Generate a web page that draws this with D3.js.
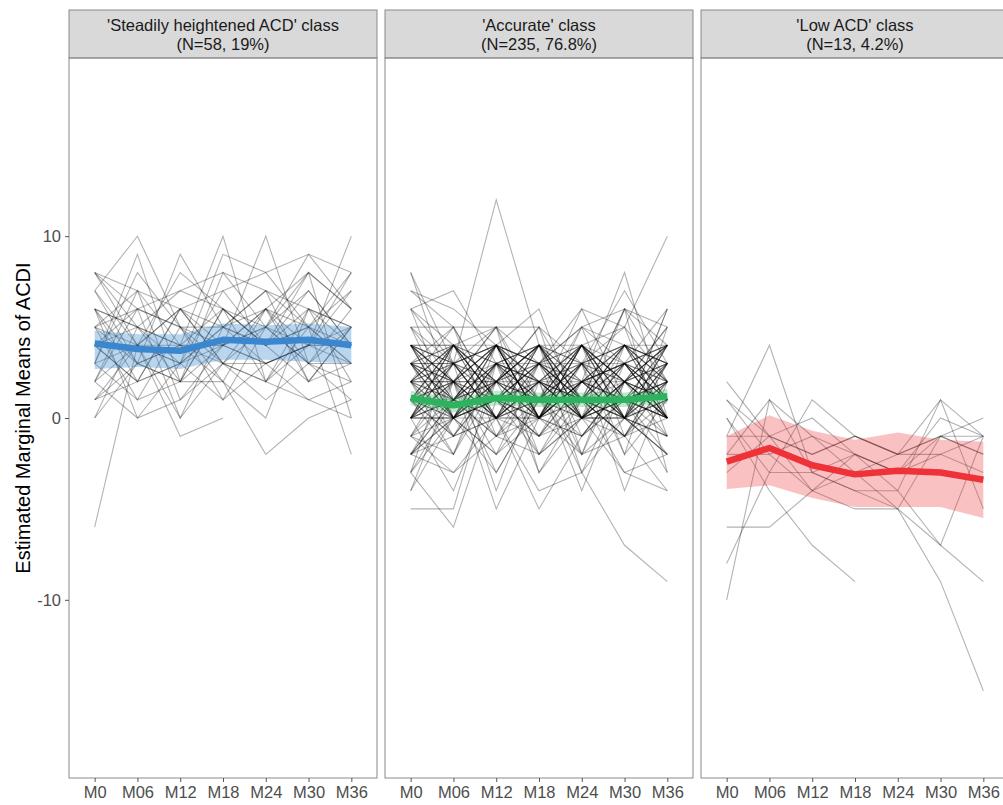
<!DOCTYPE html>
<html>
<head>
<meta charset="utf-8">
<script src="https://cdn.jsdelivr.net/npm/d3@7"></script>
<style>
  body { margin: 0; background: #fff; }
  svg { display: block; font-family: "Liberation Sans", Arial, sans-serif; }
</style>
</head>
<body>
<div id="chart"></div>
<script>
const visits = ['M0', 'M06', 'M12', 'M18', 'M24', 'M30', 'M36'];
const yTicks = [-10, 0, 10];
const yTitle = 'Estimated Marginal Means of ACDI';

const classTitles = [
  ["'Steadily heightened ACD' class", '(N=58, 19%)'],
  ["'Accurate' class", '(N=235, 76.8%)'],
  ["'Low ACD' class", '(N=13, 4.2%)']
];
const classColors = ['#3a87cf', '#2db35d', '#ee3237'];
const ribbonAlpha = [0.35, 0.3, 0.3];

// individual trajectories (null = missing visit)
const steadyLines = [
  [8, 4, 3, 5, 7, 6, 5], [8, 5, 2, 4, 3, 4, 8], [7, 10, 5, 3, 6, 3, 2],
  [6, 3, 9, 5, 4, 8, 6], [5, 7, 4, 10, 2, 5, 3], [4, 2, 6, 4, 10, 3, 5],
  [3, 9, 2, 6, 4, 7, 4], [2, 4, 0, 3, 1, 3, 1], [1, 3, 4, 2, 6, 4, 10],
  [0, 5, 3, 7, 4, 2, 5], [-6, 4, 6, 3, 5, 9, 6], [8, 6, 7, 8, 5, 4, 3],
  [6, 2, 3, 9, 8, 5, 7], [5, 1, 5, 2, 0, 6, 4], [4, 6, 0, 5, 3, 1, 2],
  [7, 4, 8, 6, 4, 5, 8], [3, 4, 4, 4, 3, 4, 4], [2, 7, 1, 4, 6, 2, 3],
  [6, 0, 3, 1, 5, 8, 0], [5, 3, 2, 8, 7, 5, 4], [4, 5, 4, 6, 2, 4, 5],
  [1, 2, 6, 5, 4, 6, 2], [3, 8, 5, 4, 5, 3, 6], [5, 4, -1, 0, null, null, null],
  [0, 3, 2, 2, -2, 0, 1], [6, 5, 4, 3, 3, 4, 4], [4, 2, 3, 5, 6, 8, 6],
  [2, 6, 5, 1, 3, 4, 7], [7, 3, 4, 4, 5, 3, 3], [3, 1, 2, 6, 4, 5, -2],
  [5, 6, 5, 5, 7, 2, 5], [1, 4, 3, 4, 6, 5, 3], [4, 4, 6, 3, 2, 6, 5],
  [6, 5, 7, 6, 5, 7, 4], [8, 7, 6, 7, 8, 9, 8], [2, 0, 1, 3, 2, 1, 0]
];

const accurateLines = [
  [4, 0, 3, 1, 4, 0, 2], [3, 1, 4, 0, 2, 4, 1], [2, 4, 0, 3, 1, 2, 4],
  [1, 3, 2, 4, 0, 3, 0], [0, 2, 4, 2, 3, 1, 3], [4, 1, 0, 2, 4, 2, 1],
  [3, 0, 2, 4, 1, 4, 3], [2, 3, 1, 0, 3, 0, 2], [1, 4, 3, 1, 2, 1, 4],
  [0, 1, 2, 3, 4, 3, 0], [-1, 0, 1, 0, -1, 2, 1], [-2, 1, 0, -1, 1, 0, -1],
  [4, 2, 1, 3, 0, 1, 4], [3, 4, 2, 0, 2, 3, 2], [2, 0, 4, 1, 3, 0, 1],
  [1, 2, 0, 4, 2, 4, 3], [0, 4, 1, 2, 0, 2, 0], [-3, 1, 3, 0, 1, -1, 2],
  [4, 3, 4, 3, 1, 0, 1], [3, 2, 0, 2, 4, 1, 0], [2, 1, 3, 4, 0, 3, 4],
  [1, 0, 1, 1, 3, 4, 2], [0, 3, 0, 0, 2, 2, 3], [-1, 2, 4, 3, 0, 0, -1],
  [4, 4, 2, 1, 1, 3, 0], [3, 3, 1, 3, 3, 2, 1], [2, 2, 2, 2, 2, 1, 2],
  [1, 1, 4, 0, 4, 0, 4], [0, 0, 3, 4, 1, 4, 2], [-2, -1, 0, 1, 0, 1, 0],
  [4, 0, 1, 0, 2, 4, 3], [3, 1, 3, 2, 0, 0, 4], [2, 4, 2, 3, 4, 2, 0],
  [1, 3, 0, 2, 1, 3, 1], [0, 2, 1, 4, 3, 0, 3], [-1, -2, 2, 0, -1, 1, 0],
  [1, -1, 0, 2, 1, -1, 2], [0, 1, -1, 1, 2, 0, -2], [2, 0, 1, -1, 0, 2, 1],
  [-3, 0, -2, 0, -2, -1, 0], [4, 2, 4, 0, 4, 2, 4], [0, 4, 0, 4, 0, 4, 0],
  [3, 0, 3, 0, 3, 0, 3], [1, 4, 1, 3, 1, 3, 1], [2, 3, 0, 1, 4, 1, 2],
  [4, 1, 2, 4, 2, 0, 3], [0, 0, 4, 3, 2, 3, 1], [3, 2, 3, 1, 0, 2, 4],
  [0, 4, 2, 0, 4, 1, 0], [4, 0, 0, 4, 1, 4, 4], [1, 2, 4, 2, 0, 2, 3],
  [3, 4, 3, 4, 3, 4, 0], [2, 1, 2, 0, 2, 3, 4], [0, 3, 4, 1, 4, 0, 1],
  [4, 3, 0, 3, 0, 3, 2], [1, 0, 3, 2, 3, 2, 0], [2, 4, 1, 4, 1, 4, 3],
  [3, 0, 4, 0, 4, 1, 2], [0, 1, 3, 3, 1, 0, 4], [4, 2, 2, 1, 3, 4, 1],
  [-1, 1, -1, 0, 1, -1, 1], [-2, 0, 1, -2, 0, 0, -2], [1, -1, 2, 1, -1, 2, 0],
  [-1, 3, 0, 2, 0, -1, 3], [2, -1, 3, -1, 2, 1, -1], [0, 2, -1, 3, -2, 3, 0],
  [3, 1, 0, 1, 4, 2, 3], [1, 4, 4, 0, 2, 0, 2], [4, 4, 1, 2, 0, 1, 0],
  [2, 2, 0, 0, 3, 3, 1], [0, 0, 2, 4, 4, 2, 4], [3, 3, 4, 2, 1, 1, 3],
  [8, 3, 2, 5, 1, 6, 4], [7, 5, 1, 3, 2, 0, 6], [6, 7, 3, 2, 4, 5, 10],
  [5, 2, 5, 1, 3, 7, 3], [8, 1, 4, 6, 0, 2, 5], [6, 4, 5, 0, 5, 3, 6],
  [5, 3, 12, 4, 0, 6, 2], [-5, -5, 3, 2, 1, 0, -2], [-4, 0, -3, 1, -2, 0, -1],
  [-3, -6, 1, -1, 2, 3, 0], [-2, 2, -5, 0, 3, -2, 1], [-1, -3, 0, -4, -3, -7, -9],
  [2, -2, 3, -3, 0, 1, -3], [3, 5, -1, 2, -4, 2, 5], [4, 3, 5, 5, -2, 4, 1],
  [0, -4, 2, -2, 1, -3, -4], [1, 2, -2, 3, 5, -1, 3], [-2, 1, 4, -2, 2, 8, 0],
  [3, -1, 2, 5, 3, -4, 2], [4, 2, -3, 1, 6, 5, -1], [7, 6, 4, 0, 2, 3, 4],
  [-4, 2, 0, -5, -1, 2, 0], [2, 5, 1, 3, 5, 6, -3], [0, 3, -4, 2, -3, 0, 6],
  [1, -2, 4, 0, 4, -2, 5], [5, 0, 2, 4, -1, 1, -2], [-3, 4, 1, -1, 3, 5, 2],
  [3, 2, 5, -3, 1, -1, -4], [6, 3, 4, 3, 6, 1, 2], [-2, 0, 2, 4, -3, 2, -1],
  [5, 5, 5, 3, 1, 6, 5], [6, 0, -2, 1, 5, 4, 2], [-2, -3, -1, -2, 0, -3, -2]
];

const lowLines = [
  [-10, 1, -3, -4, -5, -1, -2], [-1, 4, -3, -2, -3, 0, -1], [2, -1, -4, -5, -5, -7, -9],
  [1, -2, -4, -3, -5, -9, -15], [0, -4, -7, -9, null, null, null], [-6, -6, -4, -2, -4, 1, -1],
  [-8, -3, 1, -1, -2, 1, -5], [0, -3, -3, -4, -4, -7, -1], [-1, -1, -2, -1, -2, -1, -1],
  [-2, 1, -1, -2, -3, -1, 0], [-3, -1, -2, -1, -2, -2, -3], [1, -1, 0, -2, -3, -2, -1],
  [-2, -2, -1, -3, -2, -1, -2]
];

// estimated marginal means and CI
const steadyMean = [4.1, 3.8, 3.7, 4.3, 4.2, 4.3, 4.0];
const steadyLower = [2.7, 2.8, 2.7, 3.2, 3.2, 3.1, 3.0];
const steadyUpper = [4.8, 4.6, 4.6, 5.2, 5.1, 5.2, 5.0];
const accurateMean = [1.1, 0.7, 1.1, 1.0, 1.0, 1.0, 1.2];
const accurateLower = [0.7, 0.3, 0.7, 0.6, 0.6, 0.6, 0.8];
const accurateUpper = [1.5, 1.1, 1.5, 1.4, 1.4, 1.4, 1.6];
const lowMean = [-2.4, -1.65, -2.6, -3.1, -2.9, -3.0, -3.4];
const lowLower = [-3.9, -3.7, -4.4, -4.9, -4.9, -4.9, -5.5];
const lowUpper = [-1.0, 0.15, -0.7, -1.2, -0.8, -1.2, -1.3];

const panels = [
  { lines: steadyLines, mean: steadyMean, lower: steadyLower, upper: steadyUpper },
  { lines: accurateLines, mean: accurateMean, lower: accurateLower, upper: accurateUpper },
  { lines: lowLines, mean: lowMean, lower: lowLower, upper: lowUpper }
];

const width = 1003, height = 805;
const marginLeft = 69, marginTop = 10, stripH = 48, panelW = 308, gap = 8;
const plotTop = marginTop + stripH, plotH = 720;

const svg = d3.select('#chart').append('svg')
  .attr('width', width)
  .attr('height', height);

const x = d3.scalePoint().domain(visits).range([0, panelW]).padding(0.6);
const y = d3.scaleLinear().domain([-19.8, 19.8]).range([plotH, 0]);

const line = d3.line()
  .defined((d) => d != null)
  .x((d, i) => x(visits[i]))
  .y((d) => y(d));

const area = d3.area()
  .x((d, i) => x(visits[i]))
  .y0((d) => y(d[0]))
  .y1((d) => y(d[1]));

panels.forEach((p, k) => {
  const px = marginLeft + k * (panelW + gap);

  // strip
  const strip = svg.append('g').attr('transform', `translate(${px},${marginTop})`);
  strip.append('rect')
    .attr('width', panelW).attr('height', stripH)
    .attr('fill', '#d9d9d9').attr('stroke', '#8a8a8a');
  strip.selectAll('text')
    .data(classTitles[k])
    .enter()
    .append('text')
    .attr('x', panelW / 2)
    .attr('y', (d, i) => 21 + i * 19)
    .attr('text-anchor', 'middle')
    .attr('font-size', '16.5px')
    .attr('fill', '#1a1a1a')
    .text((d) => d);

  const g = svg.append('g').attr('transform', `translate(${px},${plotTop})`);

  g.append('clipPath').attr('id', 'clip' + k)
    .append('rect').attr('width', panelW).attr('height', plotH);

  const inner = g.append('g').attr('clip-path', `url(#clip${k})`);

  inner.selectAll('.traj')
    .data(p.lines)
    .enter()
    .append('path')
    .attr('class', 'traj')
    .attr('d', line)
    .attr('fill', 'none')
    .attr('stroke', '#000')
    .attr('stroke-opacity', 0.3)
    .attr('stroke-width', 1.1);

  inner.append('path')
    .datum(p.lower.map((lo, i) => [lo, p.upper[i]]))
    .attr('d', area)
    .attr('fill', classColors[k])
    .attr('fill-opacity', ribbonAlpha[k]);

  inner.append('path')
    .datum(p.mean)
    .attr('d', line)
    .attr('fill', 'none')
    .attr('stroke', classColors[k])
    .attr('stroke-width', 6.5)
    .attr('stroke-linejoin', 'round');

  g.append('rect')
    .attr('width', panelW).attr('height', plotH)
    .attr('fill', 'none').attr('stroke', '#8a8a8a');

  // x axis
  const xa = g.append('g')
    .attr('transform', `translate(0,${plotH})`)
    .call(d3.axisBottom(x).tickSize(4).tickPadding(4));
  xa.select('.domain').remove();
  xa.selectAll('line').attr('stroke', '#555');
  xa.selectAll('text')
    .attr('font-size', '16.5px')
    .attr('fill', '#4d4d4d')
    .attr('font-family', '"Liberation Sans", Arial, sans-serif');

  if (k === 0) {
    const ya = g.append('g')
      .call(d3.axisLeft(y).tickValues(yTicks).tickFormat((d) => String(d))
        .tickSize(4).tickPadding(4));
    ya.select('.domain').remove();
    ya.selectAll('line').attr('stroke', '#555');
    ya.selectAll('text')
      .attr('font-size', '16.5px')
      .attr('fill', '#4d4d4d')
      .attr('font-family', '"Liberation Sans", Arial, sans-serif');
  }
});

svg.append('text')
  .attr('transform', `translate(30,${plotTop + plotH / 2}) rotate(-90)`)
  .attr('text-anchor', 'middle')
  .attr('font-size', '20px')
  .attr('fill', '#000')
  .text(yTitle);
</script>
</body>
</html>
